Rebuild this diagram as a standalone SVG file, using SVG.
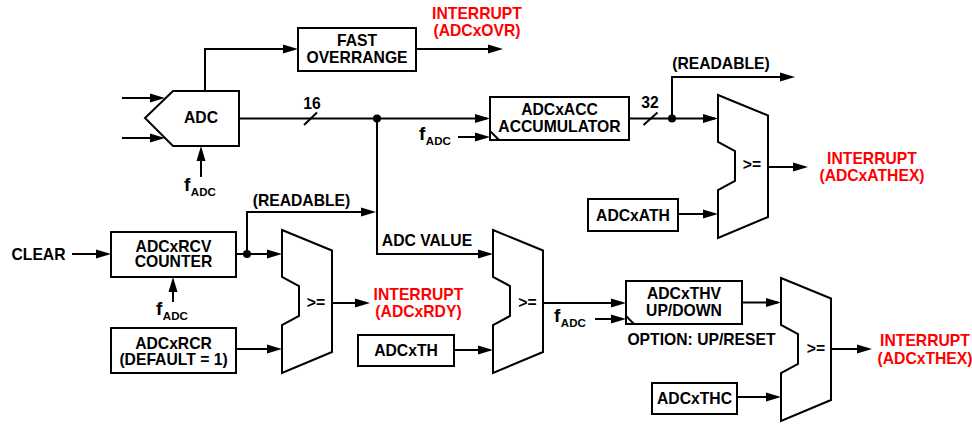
<svg xmlns="http://www.w3.org/2000/svg" width="972" height="425" viewBox="0 0 972 425">
<defs>
<style>
.ln{fill:none;stroke:#000;stroke-width:2}
.arr{marker-end:url(#ah)}
.box{fill:#fff;stroke:#000;stroke-width:2}
.t{font-family:"Liberation Sans",Arial,sans-serif;font-weight:bold;font-size:15.7px;fill:#000;text-anchor:middle}
.r{fill:#ff0000}
.fl{font-family:"Liberation Sans",Arial,sans-serif;font-weight:bold;fill:#000}
.f{font-size:19px}
.s{font-size:11.5px}
.dot{fill:#000}
</style>
<marker id="ah" markerWidth="16" markerHeight="10" refX="12" refY="5" orient="auto" markerUnits="userSpaceOnUse">
<path d="M0,0.5 L15,5 L0,9.5 Z" fill="#000"/>
</marker>
<path id="cmp" d="M0,0 L50,20.5 V122 L0,143 V95 L17,86 V56 L0,47 Z" fill="#fff" stroke="#000" stroke-width="2" stroke-linejoin="miter"/>
</defs>
<rect width="972" height="425" fill="#fff"/>

<g id="connectors">
<path class="ln arr" d="M122,98 H162"/>
<path class="ln arr" d="M122,138 H162"/>
<path class="ln arr" d="M205,91 V49 H295"/>
<path class="ln arr" d="M416,49 H500"/>
<path class="ln arr" d="M201,177 V149"/>
<path class="ln arr" d="M239,118.5 H487"/>
<path class="ln" d="M304,125 L317,112.5"/>
<path class="ln arr" d="M458,137 H487"/>
<path class="ln arr" d="M629,118.5 H715"/>
<path class="ln" d="M643.5,125 L657.5,112.5"/>
<path class="ln arr" d="M672,118.5 V77 H792"/>
<path class="ln arr" d="M678,214 H715"/>
<path class="ln arr" d="M768,167 H805"/>
<path class="ln arr" d="M377,118.5 V254 H490"/>
<path class="ln arr" d="M247,254 V212 H373"/>
<path class="ln arr" d="M72,254 H108"/>
<path class="ln arr" d="M236,254 H279"/>
<path class="ln arr" d="M173,302 V280"/>
<path class="ln arr" d="M236,349 H279"/>
<path class="ln arr" d="M332,303 H367"/>
<path class="ln arr" d="M454,350 H490"/>
<path class="ln arr" d="M543,303 H623"/>
<path class="ln arr" d="M595,319 H623"/>
<path class="ln arr" d="M742,302.5 H778"/>
<path class="ln arr" d="M737,397 H778"/>
<path class="ln arr" d="M831,349 H869"/>
<circle class="dot" cx="377" cy="118.5" r="4"/>
<circle class="dot" cx="672" cy="118.5" r="4"/>
<circle class="dot" cx="247" cy="254" r="4"/>
</g>

<g id="adc">
<path class="box" d="M145,118 L173,91 H239 V146 H173 Z"/>
<text class="t" x="201" y="123">ADC</text>
</g>
<g id="adc-clk">
<text class="fl" x="184" y="191"><tspan class="f">f</tspan><tspan class="s" dx="0.5" dy="4.5">ADC</tspan></text>
</g>
<g id="fast-overrange">
<rect class="box" x="298" y="28" width="118" height="43"/>
<text class="t" x="357" y="46">FAST</text>
<text class="t" x="357" y="63">OVERRANGE</text>
</g>
<g id="int-ovr">
<text class="t r" x="477" y="19">INTERRUPT</text>
<text class="t r" x="477" y="36">(ADCxOVR)</text>
</g>
<g id="lbl-16"><text class="t" x="312" y="108.5">16</text></g>
<g id="lbl-32"><text class="t" x="650" y="107.5">32</text></g>
<g id="lbl-readable-top"><text class="t" x="721" y="68.5">(READABLE)</text></g>

<g id="accumulator">
<rect class="box" x="490" y="97" width="139" height="43"/>
<path class="ln" d="M490,131 L499,140"/>
<text class="t" x="559.5" y="114.5">ADCxACC</text>
<text class="t" x="559.5" y="131.5">ACCUMULATOR</text>
</g>
<g id="acc-clk">
<text class="fl" x="419" y="140"><tspan class="f">f</tspan><tspan class="s" dx="0.5" dy="4.5">ADC</tspan></text>
</g>

<g id="cmp-athex">
<use href="#cmp" x="718" y="95"/>
<text class="t" x="752" y="169.5">&gt;=</text>
</g>
<g id="adcxath">
<rect class="box" x="588" y="199" width="90" height="32"/>
<text class="t" x="633" y="220.5">ADCxATH</text>
</g>
<g id="int-athex">
<text class="t r" x="872" y="164">INTERRUPT</text>
<text class="t r" x="872" y="180.5">(ADCxATHEX)</text>
</g>

<g id="clear"><text class="t" x="38.5" y="259.5">CLEAR</text></g>
<g id="rcv-counter">
<rect class="box" x="111" y="232" width="125" height="45"/>
<text class="t" x="173.5" y="251.5">ADCxRCV</text>
<text class="t" x="173.5" y="267">COUNTER</text>
</g>
<g id="rcv-clk">
<text class="fl" x="156" y="315"><tspan class="f">f</tspan><tspan class="s" dx="0.5" dy="4.5">ADC</tspan></text>
</g>
<g id="rcr">
<rect class="box" x="111" y="328" width="125" height="45"/>
<text class="t" x="173.5" y="349">ADCxRCR</text>
<text class="t" x="173.5" y="365">(DEFAULT = 1)</text>
</g>
<g id="lbl-readable-mid"><text class="t" x="301.5" y="205.5">(READABLE)</text></g>
<g id="cmp-rdy">
<use href="#cmp" x="282" y="230"/>
<text class="t" x="316" y="308">&gt;=</text>
</g>
<g id="int-rdy">
<text class="t r" x="418.5" y="300">INTERRUPT</text>
<text class="t r" x="418.5" y="317">(ADCxRDY)</text>
</g>

<g id="lbl-adc-value"><text class="t" x="427" y="246">ADC VALUE</text></g>
<g id="adcxth">
<rect class="box" x="358" y="335" width="96" height="31"/>
<text class="t" x="406" y="356">ADCxTH</text>
</g>
<g id="cmp-th">
<use href="#cmp" x="493" y="230"/>
<text class="t" x="527.5" y="307.5">&gt;=</text>
</g>
<g id="thv-clk">
<text class="fl" x="554" y="322"><tspan class="f">f</tspan><tspan class="s" dx="0.5" dy="4.5">ADC</tspan></text>
</g>
<g id="thv">
<rect class="box" x="626" y="281" width="116" height="43"/>
<path class="ln" d="M626,316 L634,324"/>
<text class="t" x="684" y="299">ADCxTHV</text>
<text class="t" x="684" y="315.5">UP/DOWN</text>
</g>
<g id="lbl-option"><text class="t" x="701.5" y="345">OPTION: UP/RESET</text></g>
<g id="adcxthc">
<rect class="box" x="652" y="383" width="85" height="31"/>
<text class="t" x="694.5" y="403.5">ADCxTHC</text>
</g>
<g id="cmp-thex">
<use href="#cmp" x="781" y="278"/>
<text class="t" x="816" y="354">&gt;=</text>
</g>
<g id="int-thex">
<text class="t r" x="925" y="346">INTERRUPT</text>
<text class="t r" x="925" y="363.5">(ADCxTHEX)</text>
</g>
</svg>
